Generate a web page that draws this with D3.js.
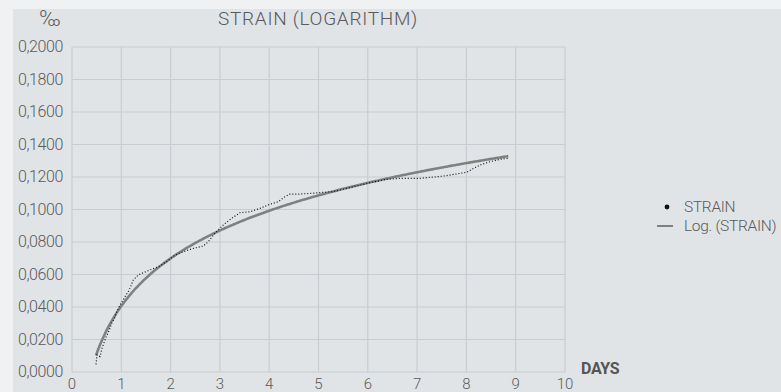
<head>
    <meta charset="utf-8" />
    <script src="https://d3js.org/d3.v7.min.js"></script>
</head>
<style>
    body { margin: 0; background: #f0f1f3; }
    text { font-family: Roboto, "Liberation Sans", Arial, sans-serif; font-weight: 300; }
</style>
<body>
</body>
<script>
// measured strain (‰) against days
var days = [0.487, 0.507, 0.568, 0.615, 0.690, 0.757, 0.805, 0.872, 0.907, 0.974,
    1.075, 1.162, 1.243, 1.345, 1.446, 1.582, 1.751, 1.921, 2.089, 2.258,
    2.460, 2.663, 2.765, 2.901, 3.069, 3.239, 3.408, 3.611, 3.813, 4.016,
    4.185, 4.320, 4.422, 4.625, 4.996, 5.300, 5.706, 6.045, 6.383, 6.653,
    7.059, 7.465, 7.667, 8.006, 8.108, 8.276, 8.479, 8.682, 8.850];
var strain = [0.0047, 0.0105, 0.0095, 0.0152, 0.0214, 0.0258, 0.0300, 0.0337, 0.0371, 0.0412,
    0.0463, 0.0505, 0.0566, 0.0597, 0.0611, 0.0628, 0.0648, 0.0679, 0.0720, 0.0740,
    0.0761, 0.0775, 0.0802, 0.0854, 0.0905, 0.0946, 0.0980, 0.0986, 0.1007, 0.1032,
    0.1048, 0.1079, 0.1095, 0.1095, 0.1103, 0.1110, 0.1140, 0.1165, 0.1186, 0.1192,
    0.1192, 0.1203, 0.1212, 0.1229, 0.1247, 0.1274, 0.1294, 0.1309, 0.1315];
var xTicks = [0, 1, 2, 3, 4, 5, 6, 7, 8, 9, 10];
var yTicks = [0, 0.02, 0.04, 0.06, 0.08, 0.10, 0.12, 0.14, 0.16, 0.18, 0.20];
var legendLabels = ["STRAIN", "Log. (STRAIN)"];

var W = 781, H = 392;
var plotL = 72, plotR = 565, plotT = 47, plotB = 372;
var textColor = "#5a5a5a", gridColor = "#c9ccd0";

var loc = d3.formatLocale({decimal: ",", thousands: ".", grouping: [3], currency: ["", ""]});
var fmt = loc.format(".4f");

var svg = d3.select("body").append("svg")
    .attr("width", W)
    .attr("height", H);

svg.append("rect").attr("width", W).attr("height", H).attr("fill", "#f0f1f3");
svg.append("rect").attr("x", 13).attr("y", 9).attr("width", W - 13).attr("height", H - 9).attr("fill", "#e1e4e7");

var x = d3.scaleLinear().domain([0, 10]).range([plotL, plotR]);
var y = d3.scaleLinear().domain([0, 0.2]).range([plotB, plotT]);

// grid
svg.append("g").selectAll("line").data(xTicks).enter().append("line")
    .attr("x1", d => x(d)).attr("x2", d => x(d))
    .attr("y1", plotT).attr("y2", plotB)
    .attr("stroke", gridColor).attr("stroke-width", 1.2);
svg.append("g").selectAll("line").data(yTicks).enter().append("line")
    .attr("x1", plotL).attr("x2", plotR)
    .attr("y1", d => y(d)).attr("y2", d => y(d))
    .attr("stroke", gridColor).attr("stroke-width", 1.2);

// tick labels
svg.append("g").selectAll("text").data(yTicks).enter().append("text")
    .attr("x", 63).attr("y", d => y(d) + 5)
    .attr("text-anchor", "end")
    .attr("font-size", 16)
    .attr("letter-spacing", -0.4)
    .attr("fill", textColor)
    .text(d => fmt(d));
svg.append("g").selectAll("text").data(xTicks).enter().append("text")
    .attr("x", d => x(d)).attr("y", 389)
    .attr("text-anchor", "middle")
    .attr("font-size", 15)
    .attr("fill", textColor)
    .text(d => d);

// titles
svg.append("text").attr("x", 318).attr("y", 25)
    .attr("text-anchor", "middle").attr("font-size", 19)
    .attr("letter-spacing", 0.7)
    .attr("fill", textColor).text("STRAIN (LOGARITHM)");
svg.append("text").attr("x", 50).attr("y", 26)
    .attr("text-anchor", "middle").attr("font-size", 22)
    .attr("fill", textColor).text("‰");
svg.append("text").attr("x", 581).attr("y", 374)
    .attr("font-size", 16).style("font-weight", 700)
    .attr("letter-spacing", -0.3)
    .attr("fill", "#555").text("DAYS");

// log trend line (least squares on ln(days))
var lx = days.map(Math.log);
var mx = d3.mean(lx), my = d3.mean(strain);
var a = d3.sum(lx, (v, i) => (v - mx) * (strain[i] - my)) / d3.sum(lx, v => (v - mx) * (v - mx));
var b = my - a * mx;
var trendX = d3.range(0, 201).map(i => days[0] + (days[days.length - 1] - days[0]) * i / 200);

svg.append("path")
    .datum(trendX)
    .attr("fill", "none")
    .attr("stroke", "#808080")
    .attr("stroke-width", 2.6)
    .attr("d", d3.line().x(d => x(d)).y(d => y(a * Math.log(d) + b)));

// measured data, dotted
svg.append("path")
    .datum(days.map((d, i) => [d, strain[i]]))
    .attr("fill", "none")
    .attr("stroke", "#111")
    .attr("stroke-width", 1.2)
    .attr("stroke-dasharray", "1,2")
    .attr("d", d3.line().x(d => x(d[0])).y(d => y(d[1])));

// legend
var leg = svg.append("g");
leg.append("circle").attr("cx", 667).attr("cy", 207).attr("r", 2.4).attr("fill", "#111");
leg.append("line").attr("x1", 657).attr("x2", 673).attr("y1", 226).attr("y2", 226)
    .attr("stroke", "#808080").attr("stroke-width", 2);
leg.selectAll("text").data(legendLabels).enter().append("text")
    .attr("x", 684).attr("y", (d, i) => 212 + i * 19)
    .attr("font-size", 15.5).attr("letter-spacing", -0.3)
    .attr("fill", textColor).text(d => d);
</script>
